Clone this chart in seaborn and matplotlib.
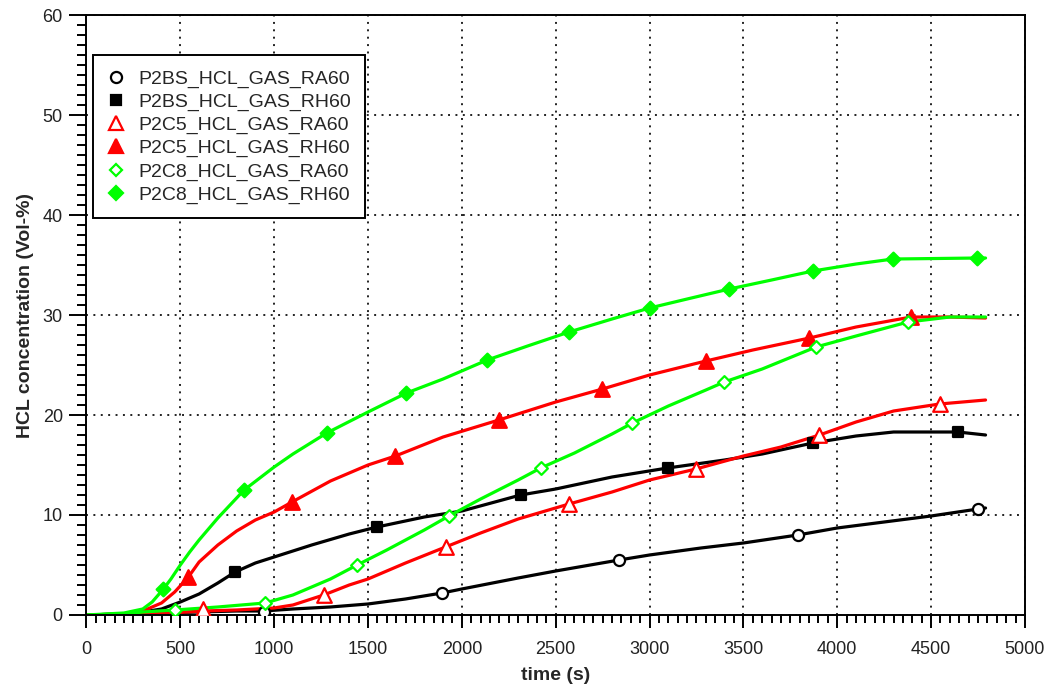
import matplotlib
matplotlib.use('Agg')
import matplotlib.pyplot as plt
from matplotlib.lines import Line2D
from matplotlib.ticker import MultipleLocator
import pandas as pd
import seaborn as sns

# P2BS_HCL_GAS_RA60 (black, open circle)
t_bs_ra = [0, 200, 400, 600, 800, 944, 1100, 1300, 1500, 1700, 1895, 2000, 2300, 2500, 2838, 3000,
           3274, 3500, 3790, 4000, 4250, 4500, 4750, 4790]
c_bs_ra = [0.0, 0.1, 0.2, 0.3, 0.4, 0.4, 0.6, 0.8, 1.1, 1.6, 2.2, 2.6, 3.7, 4.4, 5.5, 6.0,
           6.7, 7.2, 8.0, 8.7, 9.3, 9.9, 10.6, 10.7]
mt_bs_ra = [944, 1895, 2838, 3790, 4750]
mc_bs_ra = [0.3, 2.2, 5.5, 8.0, 10.6]

# P2BS_HCL_GAS_RH60 (black, filled square)
t_bs_rh = [0, 200, 300, 400, 500, 600, 700, 792, 900, 1000, 1200, 1400, 1548, 1800, 2000, 2313,
           2500, 2800, 3096, 3400, 3600, 3870, 4100, 4300, 4643, 4790]
c_bs_rh = [0.0, 0.1, 0.3, 0.6, 1.3, 2.1, 3.2, 4.3, 5.2, 5.8, 7.0, 8.1, 8.8, 9.8, 10.4, 12.0,
           12.6, 13.8, 14.7, 15.5, 16.1, 17.2, 17.9, 18.3, 18.3, 18.0]
mt_bs_rh = [792, 1548, 2313, 3096, 3870, 4643]
mc_bs_rh = [4.3, 8.8, 12.0, 14.7, 17.2, 18.3]

# P2C5_HCL_GAS_RA60 (red, open triangle)
t_c5_ra = [0, 300, 450, 623, 800, 1000, 1100, 1264, 1400, 1500, 1700, 1913, 2100, 2300, 2571,
           2800, 3000, 3247, 3500, 3700, 3905, 4100, 4300, 4545, 4790]
c_c5_ra = [0.0, 0.1, 0.2, 0.4, 0.5, 0.7, 1.0, 2.0, 3.0, 3.6, 5.2, 6.8, 8.2, 9.6, 11.1,
           12.3, 13.5, 14.6, 15.9, 16.8, 18.0, 19.3, 20.4, 21.1, 21.5]
mt_c5_ra = [623, 1264, 1913, 2571, 3247, 3905, 4545]
mc_c5_ra = [0.6, 2.0, 6.8, 11.1, 14.6, 18.0, 21.1]

# P2C5_HCL_GAS_RH60 (red, filled triangle)
t_c5_rh = [0, 200, 300, 400, 470, 543, 600, 700, 800, 900, 1000, 1095, 1300, 1500, 1646, 1900,
           2197, 2500, 2749, 3000, 3300, 3550, 3852, 4100, 4394, 4600, 4790]
c_c5_rh = [0.0, 0.1, 0.4, 1.2, 2.3, 3.8, 5.3, 7.0, 8.4, 9.5, 10.3, 11.3, 13.4, 15.0, 15.9, 17.8,
           19.5, 21.3, 22.6, 24.0, 25.4, 26.5, 27.7, 28.8, 29.8, 29.8, 29.7]
mt_c5_rh = [543, 1095, 1646, 2197, 2749, 3300, 3852, 4394]
mc_c5_rh = [3.8, 11.3, 15.9, 19.5, 22.6, 25.4, 27.7, 29.8]

# P2C8_HCL_GAS_RA60 (green, open diamond)
t_c8_ra = [0, 200, 300, 472, 700, 952, 1100, 1300, 1442, 1600, 1800, 1931, 2100, 2300, 2420,
           2600, 2800, 2909, 3100, 3300, 3398, 3600, 3887, 4100, 4377, 4600, 4790]
c_c8_ra = [0.0, 0.1, 0.3, 0.5, 0.8, 1.2, 2.0, 3.6, 5.0, 6.5, 8.5, 9.9, 11.6, 13.5, 14.7,
           16.2, 18.1, 19.2, 20.9, 22.5, 23.3, 24.6, 26.8, 27.9, 29.3, 29.8, 29.8]
mt_c8_ra = [472, 952, 1442, 1931, 2420, 2909, 3398, 3887, 4377]
mc_c8_ra = [0.5, 1.2, 5.0, 9.9, 14.7, 19.2, 23.3, 26.8, 29.3]

# P2C8_HCL_GAS_RH60 (green, filled diamond)
t_c8_rh = [0, 200, 300, 350, 410, 450, 500, 550, 600, 700, 840, 1000, 1100, 1280, 1500, 1705,
           1900, 2135, 2350, 2571, 2800, 3000, 3200, 3425, 3650, 3870, 4100, 4297, 4747, 4790]
c_c8_rh = [0.0, 0.2, 0.6, 1.3, 2.6, 3.6, 5.0, 6.3, 7.5, 9.7, 12.5, 14.8, 16.1, 18.2, 20.3, 22.2,
           23.6, 25.5, 26.9, 28.3, 29.6, 30.7, 31.6, 32.6, 33.5, 34.4, 35.1, 35.6, 35.7, 35.7]
mt_c8_rh = [410, 840, 1280, 1705, 2135, 2571, 3000, 3425, 3870, 4297, 4747]
mc_c8_rh = [2.6, 12.5, 18.2, 22.2, 25.5, 28.3, 30.7, 32.6, 34.4, 35.6, 35.7]

labels = ['P2BS_HCL_GAS_RA60', 'P2BS_HCL_GAS_RH60', 'P2C5_HCL_GAS_RA60',
          'P2C5_HCL_GAS_RH60', 'P2C8_HCL_GAS_RA60', 'P2C8_HCL_GAS_RH60']

series = [
    (t_bs_ra, c_bs_ra, mt_bs_ra, mc_bs_ra, 'black', 'o', False, 8),
    (t_bs_rh, c_bs_rh, mt_bs_rh, mc_bs_rh, 'black', 's', True, 7.5),
    (t_c5_ra, c_c5_ra, mt_c5_ra, mc_c5_ra, '#ff0000', '^', False, 10.5),
    (t_c5_rh, c_c5_rh, mt_c5_rh, mc_c5_rh, '#ff0000', '^', True, 10.5),
    (t_c8_ra, c_c8_ra, mt_c8_ra, mc_c8_ra, '#00ff00', 'D', False, 6.5),
    (t_c8_rh, c_c8_rh, mt_c8_rh, mc_c8_rh, '#00ff00', 'D', True, 7),
]

sns.set_style('ticks')
plt.rcParams['font.family'] = ['Liberation Sans', 'DejaVu Sans']

fig, ax = plt.subplots(figsize=(10.52, 6.96), dpi=100)
fig.subplots_adjust(left=0.0822, right=0.9743, bottom=0.1164, top=0.9784)

handles = []
for (t, c, mt, mc, col, mk, filled, ms), lab in zip(series, labels):
    line_df = pd.DataFrame({'time': t, 'conc': c})
    mark_df = pd.DataFrame({'time': mt, 'conc': mc})
    sns.lineplot(data=line_df, x='time', y='conc', color=col, linewidth=2.3,
                 estimator=None, sort=False, ax=ax)
    fc = col if filled else 'white'
    sns.scatterplot(data=mark_df, x='time', y='conc', marker=mk, s=ms ** 2,
                    facecolor=fc, edgecolor=col, linewidth=1.6, zorder=5, ax=ax)
    handles.append(Line2D([], [], linestyle='none', marker=mk, markersize=ms,
                          markerfacecolor=fc, markeredgecolor=col, markeredgewidth=1.6,
                          label=lab))

ax.set_xlim(0, 5000)
ax.set_ylim(0, 60)
ax.xaxis.set_major_locator(MultipleLocator(500))
ax.xaxis.set_minor_locator(MultipleLocator(50))
ax.yaxis.set_major_locator(MultipleLocator(10))
ax.yaxis.set_minor_locator(MultipleLocator(1))

ax.grid(True, which='major', color='#222222', linestyle=(0, (1, 2.8)), linewidth=1.4)
for sp in ax.spines.values():
    sp.set_visible(True)
    sp.set_linewidth(1.4)
    sp.set_color('black')

ax.tick_params(axis='both', which='both', direction='out', width=1.4, color='black',
               labelsize=13, labelcolor='#222222')
ax.tick_params(axis='x', which='major', length=9.5, pad=9)
ax.tick_params(axis='x', which='minor', length=6)
ax.tick_params(axis='y', which='major', length=12, pad=5)
ax.tick_params(axis='y', which='minor', length=6.5)

ax.set_xlabel('time (s)', fontsize=14, fontweight='bold', labelpad=7)
ax.set_ylabel('HCL concentration (Vol-%)', fontsize=14, fontweight='bold', labelpad=6)

leg = ax.legend(handles=handles, loc='upper left', bbox_to_anchor=(0.0069, 0.933),
                borderaxespad=0, fontsize=14, frameon=True, fancybox=False,
                framealpha=1, edgecolor='black', labelspacing=0.28, borderpad=0.75,
                handlelength=0.87, handletextpad=0.7)
leg.get_frame().set_linewidth(1.4)

plt.savefig('out.png', dpi=100)
